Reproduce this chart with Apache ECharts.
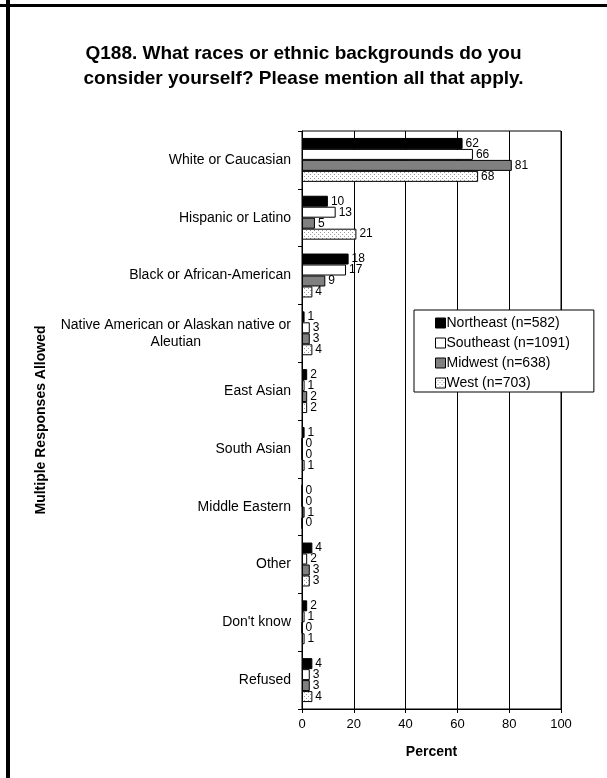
<!DOCTYPE html>
<html>
<head>
<meta charset="utf-8">
<script src="https://cdn.jsdelivr.net/npm/echarts@6/dist/echarts.min.js"></script>
<style>
  html, body { margin: 0; padding: 0; background: #fff; }
  #chart { width: 607px; height: 778px; }
</style>
</head>
<body>
<div id="chart"></div>
<script>
// Response categories, top to bottom
const categories = [
  'White or Caucasian',
  'Hispanic or Latino',
  'Black or African-American',
  'Native American or Alaskan native or\nAleutian',
  'East Asian',
  'South Asian',
  'Middle Eastern',
  'Other',
  "Don't know",
  'Refused'
];

// Percent of respondents in each region
const northeast = [62, 10, 18, 1, 2, 1, 0, 4, 2, 4];
const southeast = [66, 13, 17, 3, 1, 0, 0, 2, 1, 3];
const midwest   = [81, 5, 9, 3, 2, 0, 1, 3, 0, 3];
const west      = [68, 21, 4, 4, 2, 1, 0, 3, 1, 4];

const seriesNames = ['Northeast (n=582)', 'Southeast (n=1091)', 'Midwest (n=638)', 'West (n=703)'];
const xTicks = [0, 20, 40, 60, 80, 100];

const FONT = 'Liberation Sans, Arial, sans-serif';

// Dotted fill for the West bars
function dotPattern() {
  const c = document.createElement('canvas');
  c.width = 4; c.height = 4;
  const g = c.getContext('2d');
  g.fillStyle = '#ffffff';
  g.fillRect(0, 0, 4, 4);
  g.fillStyle = '#9a9a9a';
  g.fillRect(0, 0, 1, 1);
  g.fillRect(2, 2, 1, 1);
  return c;
}

const fills = ['#000000', '#ffffff', '#808080', { image: dotPattern(), repeat: 'repeat' }];
const values = [northeast, southeast, midwest, west];

const chart = echarts.init(document.getElementById('chart'), null, { renderer: 'canvas' });

const series = values.map((vals, i) => ({
  name: seriesNames[i],
  type: 'bar',
  data: vals,
  barGap: '0%',
  barCategoryGap: '24%',
  itemStyle: { color: fills[i], borderColor: '#000', borderWidth: 1 },
  label: {
    show: true,
    position: 'right',
    distance: 3,
    color: '#000',
    fontFamily: FONT,
    fontSize: 12
  }
}));

chart.setOption({
  animation: false,
  backgroundColor: '#ffffff',
  textStyle: { fontFamily: FONT, color: '#000' },
  title: {
    text: 'Q188. What races or ethnic backgrounds do you\nconsider yourself? Please mention all that apply.',
    left: 'center',
    top: 36,
    textStyle: {
      fontFamily: FONT,
      fontWeight: 'bold',
      fontSize: 19,
      lineHeight: 25,
      color: '#000'
    }
  },
  legend: {
    orient: 'vertical',
    left: 414,
    top: 310,
    padding: [6, 24, 2, 21],
    itemWidth: 10,
    itemHeight: 10,
    itemGap: 6,
    borderColor: '#000',
    borderWidth: 1,
    backgroundColor: '#fff',
    icon: 'rect',
    itemStyle: { borderColor: '#000', borderWidth: 1 },
    textStyle: { fontFamily: FONT, fontSize: 14, color: '#000', padding: [0, 0, 0, -4] },
    data: seriesNames
  },
  grid: {
    left: 302,
    right: 46,
    top: 131,
    bottom: 69,
    show: true,
    borderColor: '#000',
    borderWidth: 1
  },
  xAxis: {
    type: 'value',
    min: xTicks[0],
    max: xTicks[xTicks.length - 1],
    interval: 20,
    name: 'Percent',
    nameLocation: 'middle',
    nameGap: 36,
    nameTextStyle: { fontFamily: FONT, fontWeight: 'bold', fontSize: 14, color: '#000' },
    axisLine: { show: true, lineStyle: { color: '#000' } },
    axisTick: { show: true, length: 4, lineStyle: { color: '#000' } },
    axisLabel: { fontFamily: FONT, fontSize: 13, color: '#000', margin: 9 },
    splitLine: { show: true, lineStyle: { color: '#000', width: 1 } }
  },
  yAxis: {
    type: 'category',
    inverse: true,
    data: categories,
    name: 'Multiple Responses Allowed',
    nameLocation: 'middle',
    nameRotate: 90,
    nameGap: 254,
    nameTextStyle: { fontFamily: FONT, fontWeight: 'bold', fontSize: 14, color: '#000' },
    axisLine: { show: true, lineStyle: { color: '#000' } },
    axisTick: { show: true, length: 4, lineStyle: { color: '#000' } },
    axisLabel: {
      margin: 11,
      color: '#000',
      fontSize: 14,
      fontFamily: FONT,
      formatter: v => v.split('\n').map(s => '{c|' + s + '}').join('\n'),
      rich: { c: { fontFamily: FONT, fontSize: 14, color: '#000', align: 'center', lineHeight: 17 } }
    }
  },
  series: series,
  graphic: [
    { type: 'rect', shape: { x: 0, y: 4, width: 607, height: 3 }, style: { fill: '#000' }, silent: true },
    { type: 'rect', shape: { x: 6, y: 0, width: 4, height: 778 }, style: { fill: '#000' }, silent: true }
  ]
});
</script>
</body>
</html>
